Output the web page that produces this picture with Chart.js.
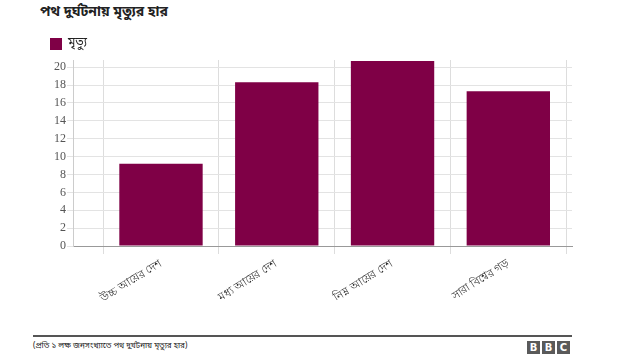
<!DOCTYPE html>
<html>
<head>
<meta charset="utf-8">
<script src="https://cdn.jsdelivr.net/npm/chart.js@4"></script>
<style>
  html, body { margin: 0; padding: 0; background: #fff; }
  body { width: 640px; height: 360px; position: relative; overflow: hidden; font-family: "Noto Sans Bengali", "Lohit Bengali", "Noto Sans", sans-serif; }
  #title { position: absolute; left: 40px; top: 3px; font-size: 14px; font-weight: bold; color: #222; }
  #wrap { position: absolute; left: 40px; top: 28px; width: 540px; height: 272px; }
  #rule { position: absolute; left: 33px; top: 335px; width: 539px; border-top: 2px solid #555; }
  #note { position: absolute; left: 33px; top: 341px; font-size: 8px; color: #222; }
  #bbc { position: absolute; left: 527px; top: 341px; display: flex; gap: 2px; }
  #bbc span { width: 13px; height: 13px; background: #5a5a5a; color: #fff; font: bold 10px/13px "DejaVu Sans", sans-serif; text-align: center; }
</style>
</head>
<body>
<div id="title">পথ দুর্ঘটনায় মৃত্যুর হার</div>
<div id="wrap"><canvas id="chart"></canvas></div>
<div id="rule"></div>
<div id="note">(প্রতি ১ লক্ষ জনসংখ্যাতে পথ দুর্ঘটনায় মৃত্যুর হার)</div>
<div id="bbc"><span>B</span><span>B</span><span>C</span></div>
<script>
const categories = ['উচ্চ আয়ের দেশ', 'মধ্য আয়ের দেশ', 'নিম্ন আয়ের দেশ', 'সারা বিশ্বের গড়'];
const deaths = [9.2, 18.3, 20.7, 17.3];
const yTicks = [0, 2, 4, 6, 8, 10, 12, 14, 16, 18, 20];
const seriesName = 'মৃত্যু';
const barColor = '#7f0046';

const ctx = document.getElementById('chart').getContext('2d');
new Chart(ctx, {
    type: 'bar',
    data: {
        labels: categories,
        datasets: [{
            label: seriesName,
            data: deaths,
            backgroundColor: barColor,
            borderColor: barColor,
            borderWidth: 0,
            categoryPercentage: 0.72,
            barPercentage: 1
        }]
    },
    options: {
        responsive: true,
        maintainAspectRatio: false,
        animation: false,
        layout: { padding: { left: 0, right: 8, top: 0, bottom: 0 } },
        plugins: {
            legend: {
                position: 'top',
                align: 'start',
                labels: {
                    boxWidth: 12,
                    boxHeight: 12,
                    color: '#222',
                    font: { size: 12, family: '"Noto Sans Bengali", "Noto Sans", sans-serif' }
                }
            },
            tooltip: { enabled: false }
        },
        scales: {
            x: {
                offset: true,
                grid: {
                    offset: true,
                    tickLength: 8,
                    color: ctx => ctx.index === categories.length ? 'rgba(0,0,0,0)' : '#dddddd'
                },
                border: { color: '#999' },
                ticks: {
                    autoSkip: false,
                    minRotation: 32,
                    maxRotation: 32,
                    color: '#333',
                    font: { size: 11 }
                },
                afterBuildTicks: scale => {
                    // extra room left of first category, a bit on the right
                    scale._startValue = -0.76;
                    scale._valueRange = 4.31;
                },
                afterFit: scale => { scale.height = 54; }
            },
            y: {
                min: 0,
                max: 20.8,
                ticks: {
                    padding: 1,
                    color: '#555',
                    font: { size: 12, family: '"Liberation Serif", serif' }
                },
                afterBuildTicks: scale => {
                    scale.ticks = yTicks.map(v => ({ value: v }));
                },
                grid: { color: '#e3e3e3', tickLength: 6 },
                border: { color: '#cccccc' },
                afterFit: scale => { scale.width = 33; }
            }
        }
    }
});
</script>
</body>
</html>
